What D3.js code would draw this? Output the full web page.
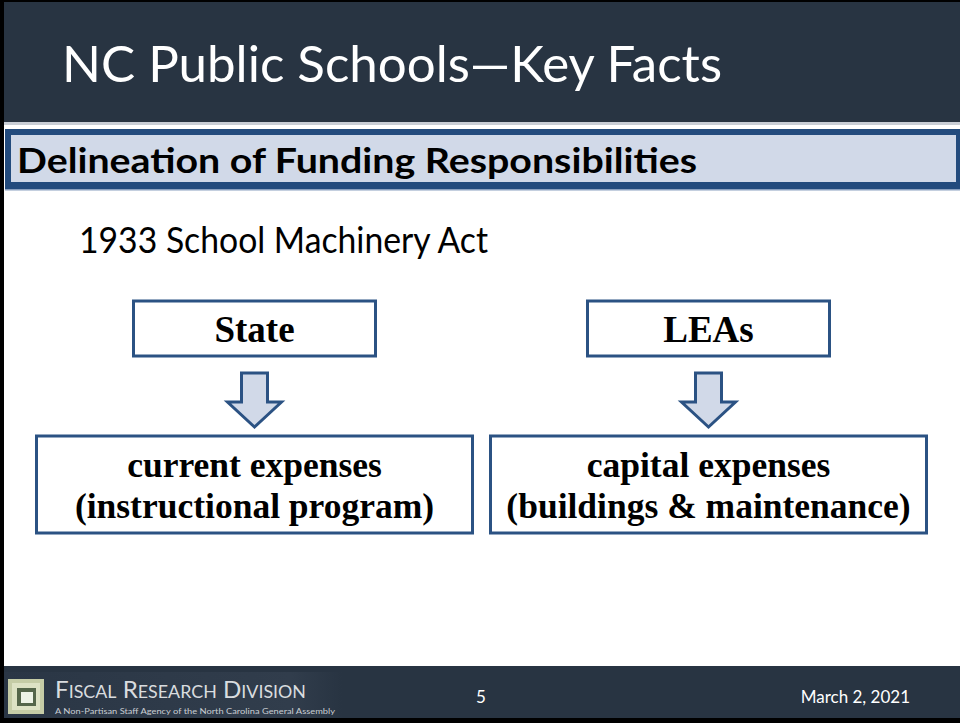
<!DOCTYPE html>
<html>
<head>
<meta charset="utf-8">
<script src="https://cdn.jsdelivr.net/npm/d3@7"></script>
<style>
  body { margin: 0; background: #fff; }
  svg { display: block; }
</style>
</head>
<body>
<div id="Slide"></div>
<script>
var width = 960, height = 723;

// slide content
var slideTitle = "NC Public Schools\u2014Key Facts";
var sectionTitle = "Delineation of Funding Responsibilities";
var actTitle = "1933 School Machinery Act";
var columns = ["State", "LEAs"];
var expenseLines = [
  ["current expenses", "(instructional program)"],
  ["capital expenses", "(buildings & maintenance)"]
];
var footerOrg = ["Fiscal", "Research", "Division"];
var footerTag = "A Non-Partisan Staff Agency of the North Carolina General Assembly";
var pageNumber = "5";
var slideDate = "March 2, 2021";

var dark = "#283442",
    blue = "#234b7d",
    lightBlue = "#d1d9e8",
    boxBlue = "#2b5283";

var svg = d3.select("#Slide")
  .append("svg")
  .attr("width", width)
  .attr("height", height);

// black frame
svg.append("rect").attr("x", 0).attr("y", 0).attr("width", width).attr("height", height).attr("fill", "#000");
svg.append("rect").attr("x", 4).attr("y", 2).attr("width", width - 4).attr("height", 716).attr("fill", "#fff");

// header
svg.append("rect").attr("x", 4).attr("y", 2).attr("width", width - 4).attr("height", 120).attr("fill", dark);
svg.append("rect").attr("x", 4).attr("y", 122).attr("width", width - 4).attr("height", 3).attr("fill", "#c9ced6");

svg.append("text")
  .attr("x", 62).attr("y", 82)
  .attr("font-family", "Lato, 'Open Sans', sans-serif")
  .attr("font-size", 51)
  .attr("fill", "#fff")
  .attr("textLength", 660)
  .attr("lengthAdjust", "spacingAndGlyphs")
  .text(slideTitle);

// section bar
svg.append("rect").attr("x", 5).attr("y", 129).attr("width", width - 5).attr("height", 60).attr("fill", blue);
svg.append("rect").attr("x", 11).attr("y", 135).attr("width", 945).attr("height", 47).attr("fill", lightBlue);
svg.append("rect").attr("x", 5).attr("y", 189).attr("width", width - 5).attr("height", 1.5).attr("fill", "#8aa0bf");

svg.append("text")
  .attr("x", 17).attr("y", 173)
  .attr("font-family", "Lato, 'Open Sans', sans-serif")
  .attr("font-weight", "bold")
  .attr("font-size", 34)
  .attr("fill", "#000")
  .attr("textLength", 680)
  .attr("lengthAdjust", "spacingAndGlyphs")
  .text(sectionTitle);

svg.append("text")
  .attr("x", 79).attr("y", 253)
  .attr("font-family", "Lato, 'Open Sans', sans-serif")
  .attr("font-size", 36)
  .attr("fill", "#000")
  .attr("textLength", 409)
  .attr("lengthAdjust", "spacingAndGlyphs")
  .text(actTitle);

// column positions
var x = d3.scalePoint()
  .domain(columns)
  .range([254.5, 708.5]);

var serif = "'Liberation Serif', 'Times New Roman', serif";

// top boxes
var topBoxes = svg.selectAll(".topbox")
  .data(columns)
  .enter()
  .append("g")
  .attr("class", "topbox")
  .attr("transform", function(d) { return "translate(" + x(d) + ",0)"; });

topBoxes.append("rect")
  .attr("x", -121).attr("y", 301)
  .attr("width", 242).attr("height", 55)
  .attr("fill", "#fff")
  .attr("stroke", boxBlue)
  .attr("stroke-width", 3);

topBoxes.append("text")
  .attr("x", 0).attr("y", 342)
  .attr("text-anchor", "middle")
  .attr("font-family", serif)
  .attr("font-weight", "bold")
  .attr("font-size", 37)
  .attr("fill", "#000")
  .text(function(d) { return d; });

// arrows
var arrow = d3.line()([[-13, 373], [13, 373], [13, 402], [27, 402], [0, 427], [-27, 402], [-13, 402]]) + "Z";

topBoxes.append("path")
  .attr("d", arrow)
  .attr("fill", lightBlue)
  .attr("stroke", boxBlue)
  .attr("stroke-width", 3)
  .attr("stroke-linejoin", "miter");

// bottom boxes
var bottomBoxes = svg.selectAll(".bottombox")
  .data(expenseLines)
  .enter()
  .append("g")
  .attr("class", "bottombox")
  .attr("transform", function(d, i) { return "translate(" + x(columns[i]) + ",0)"; });

bottomBoxes.append("rect")
  .attr("x", -218).attr("y", 436)
  .attr("width", 436).attr("height", 97)
  .attr("fill", "#fff")
  .attr("stroke", boxBlue)
  .attr("stroke-width", 3);

bottomBoxes.selectAll("text")
  .data(function(d) { return d; })
  .enter()
  .append("text")
  .attr("x", 0)
  .attr("y", function(d, i) { return 477 + i * 41; })
  .attr("text-anchor", "middle")
  .attr("font-family", serif)
  .attr("font-weight", "bold")
  .attr("font-size", 35.5)
  .attr("fill", "#000")
  .text(function(d) { return d; });

// footer
svg.append("rect").attr("x", 4).attr("y", 666).attr("width", width - 4).attr("height", 52).attr("fill", dark);

var grad = svg.append("defs").append("linearGradient")
  .attr("id", "logoBg").attr("x1", 0).attr("x2", 1);
grad.append("stop").attr("offset", "0%").attr("stop-color", "#2a3645");
grad.append("stop").attr("offset", "85%").attr("stop-color", "#313d4c");
grad.append("stop").attr("offset", "100%").attr("stop-color", dark);
svg.append("rect").attr("x", 4).attr("y", 672).attr("width", 338).attr("height", 46).attr("fill", "url(#logoBg)");

// logo squares
svg.append("rect").attr("x", 8).attr("y", 679).attr("width", 36).attr("height", 35).attr("fill", "#c5cca6");
svg.append("rect").attr("x", 12).attr("y", 683).attr("width", 28).attr("height", 27).attr("fill", "#dde2c4");
svg.append("rect").attr("x", 17).attr("y", 688).attr("width", 19).attr("height", 18).attr("fill", "#55664a");
svg.append("rect").attr("x", 21).attr("y", 692).attr("width", 12).attr("height", 11).attr("fill", "#eef3e6");

var org = svg.append("text")
  .attr("x", 55).attr("y", 698)
  .attr("font-family", "Lato, 'Open Sans', sans-serif")
  .attr("fill", "#d9dcdf")
  .attr("textLength", 251)
  .attr("lengthAdjust", "spacingAndGlyphs");

footerOrg.forEach(function(w, i) {
  org.append("tspan").attr("font-size", 23).text((i ? " " : "") + w.charAt(0).toUpperCase());
  org.append("tspan").attr("font-size", 17).text(w.slice(1).toUpperCase());
});

svg.append("text")
  .attr("x", 55).attr("y", 714)
  .attr("font-family", "Lato, 'Open Sans', sans-serif")
  .attr("font-size", 7.5)
  .attr("fill", "#c9cdd2")
  .attr("textLength", 280)
  .attr("lengthAdjust", "spacingAndGlyphs")
  .text(footerTag);

svg.append("text")
  .attr("x", 481).attr("y", 703)
  .attr("text-anchor", "middle")
  .attr("font-family", "Lato, 'Open Sans', sans-serif")
  .attr("font-size", 17)
  .attr("fill", "#fff")
  .text(pageNumber);

svg.append("text")
  .attr("x", 910).attr("y", 703)
  .attr("text-anchor", "end")
  .attr("font-family", "Lato, 'Open Sans', sans-serif")
  .attr("font-size", 17)
  .attr("fill", "#fff")
  .text(slideDate);
</script>
</body>
</html>
